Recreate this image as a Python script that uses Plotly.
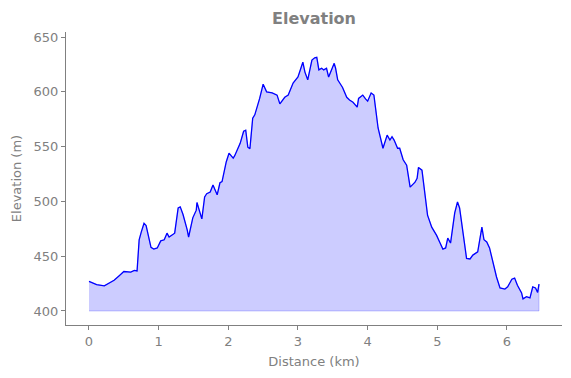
import plotly.graph_objects as go

distance_km = [0.00, 0.11, 0.22, 0.36, 0.43, 0.50, 0.60, 0.65, 0.69, 0.72, 0.75, 0.79, 0.82, 0.86, 0.89,
               0.93, 0.98, 1.03, 1.08, 1.12, 1.15, 1.23, 1.28, 1.31, 1.35, 1.41, 1.43, 1.49, 1.54, 1.55,
               1.58, 1.62, 1.66, 1.69, 1.74, 1.78, 1.84, 1.88, 1.91, 1.97, 2.01, 2.07, 2.09, 2.15, 2.17,
               2.22, 2.25, 2.28, 2.31, 2.35, 2.38, 2.45, 2.50, 2.55, 2.63, 2.70, 2.74, 2.81, 2.86, 2.93,
               3.00, 3.07, 3.10, 3.14, 3.20, 3.24, 3.27, 3.30, 3.34, 3.37, 3.41, 3.44, 3.49, 3.52, 3.54,
               3.57, 3.62, 3.64, 3.70, 3.74, 3.79, 3.85, 3.87, 3.93, 3.97, 4.00, 4.05, 4.09, 4.15, 4.22,
               4.28, 4.32, 4.35, 4.38, 4.43, 4.46, 4.51, 4.56, 4.61, 4.68, 4.71, 4.73, 4.78, 4.82, 4.86,
               4.92, 4.99, 5.04, 5.08, 5.12, 5.15, 5.19, 5.25, 5.29, 5.32, 5.37, 5.42, 5.47, 5.51, 5.58,
               5.64, 5.67, 5.71, 5.75, 5.80, 5.85, 5.90, 5.97, 6.01, 6.07, 6.11, 6.15, 6.21, 6.23, 6.28,
               6.33, 6.37, 6.41, 6.44, 6.46]
elevation_m = [427, 424, 423, 428, 432, 436, 435.5, 437, 436.5, 465, 472, 480, 478, 467, 458,
               456.5, 457.5, 464, 465, 471, 467.5, 471, 494, 495, 488, 474, 467.5, 485, 492, 499,
               492, 484, 504, 507, 508.5, 515, 506, 517, 518, 536, 544, 539.5, 541.5, 550.5, 553,
               564, 565, 549.5, 548, 576, 579, 594, 607, 600, 599, 597, 589, 595, 597, 608,
               613.5, 627, 618, 611, 629, 631, 631.5, 620, 621.5, 620, 621.5, 613.5, 622.5, 626, 621.5,
               611, 606, 604, 595, 592.5, 590.5, 586, 594, 597, 593.5, 591.5, 599, 597, 567, 548.5,
               560.5, 556, 559, 556, 548.5, 548.5, 538, 533, 513, 517.5, 521, 531, 528.5, 507.5, 487.5,
               476.5, 469, 462, 456.5, 457.5, 466.5, 462, 489.5, 499.5, 494, 471, 448, 447.5, 451, 454,
               476.5, 465, 463, 457.5, 444.5, 431, 421, 420, 422, 429, 430, 423.5, 416.5, 411, 413,
               412, 422, 421, 417, 424.5]
base_m = 400
x_ticks = [0, 1, 2, 3, 4, 5, 6]
y_ticks = [400, 450, 500, 550, 600, 650]

gray = "#808080"
font = "DejaVu Sans"

fig = go.Figure()
fig.add_trace(go.Scatter(
    x=distance_km + distance_km[::-1],
    y=elevation_m + [base_m] * len(distance_km),
    fill="toself", fillcolor="rgba(0,0,255,0.2)",
    line=dict(color="rgba(0,0,255,0.2)", width=1),
    mode="lines", hoverinfo="skip", showlegend=False))
fig.add_trace(go.Scatter(
    x=distance_km, y=elevation_m, mode="lines",
    line=dict(color="#0000ff", width=1.3), showlegend=False))

axis_common = dict(showgrid=False, zeroline=False, showline=True, linecolor=gray, linewidth=1,
                   ticks="outside", ticklen=4, tickcolor=gray, tickwidth=1,
                   tickfont=dict(family=font, size=13, color=gray), mirror=False)
fig.update_layout(
    width=571, height=378,
    margin=dict(l=66, r=9, t=32, b=53),
    paper_bgcolor="white", plot_bgcolor="white",
    title=dict(text="<b>Elevation</b>", x=0.5, xref="paper", y=1 - 18 / 378, yref="container",
               xanchor="center", yanchor="middle",
               font=dict(family=font, size=16, color=gray)),
    xaxis=dict(range=[-0.33, 6.79], tickvals=x_ticks,
               title=dict(text="Distance (km)", font=dict(family=font, size=13, color=gray), standoff=9),
               **axis_common),
    yaxis=dict(range=[387.2, 654.6], tickvals=y_ticks,
               title=dict(text="Elevation (m)", font=dict(family=font, size=13, color=gray), standoff=9),
               **axis_common),
)
fig.write_html("out.html", config={"displayModeBar": False},
               post_script="document.body.style.margin='0';document.body.style.padding='0';")
